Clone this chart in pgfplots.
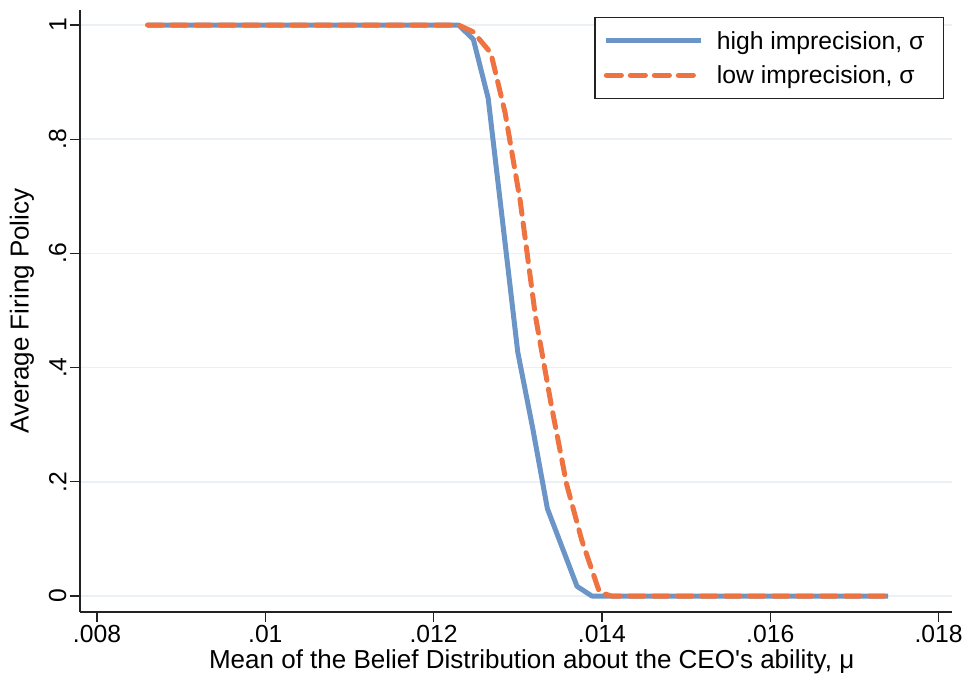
\documentclass[border=0pt]{standalone}
\usepackage{fontspec}
\setmainfont{Liberation Sans}[Ligatures=TeXOff]
\usepackage{pgfplots}
\pgfplotsset{compat=1.18}

\definecolor{hiblue}{HTML}{6A95C6}
\definecolor{loorange}{HTML}{EE7340}
\definecolor{gridc}{HTML}{EAF0F3}
\definecolor{axc}{HTML}{222222}

\newcommand{\chartfont}{\fontsize{24.7}{29}\selectfont}
\newcommand{\labelfont}{\fontsize{26}{31}\selectfont}

\begin{document}
\begin{tikzpicture}
\begin{axis}[
  scale only axis, width=872pt, height=602pt,
  at={(0pt,0pt)}, anchor=south west,
  xmin=0.007798, xmax=0.01816, ymin=-0.028, ymax=1.0263,
  axis x line*=bottom, axis y line*=left,
  axis line style={line width=1.3pt, color=axc, -},
  xtick={0.008,0.010,0.012,0.014,0.016,0.018},
  xticklabels={.008,.01,.012,.014,.016,.018},
  ytick={0,0.2,0.4,0.6,0.8,1},
  yticklabels={0,.2,.4,.6,.8,1},
  scaled x ticks=false,
  tick align=outside, major tick length=10pt,
  tick style={line width=1.3pt, color=axc},
  ymajorgrids, grid style={gridc, line width=1.6pt},
  ticklabel style={font=\chartfont},
  yticklabel style={rotate=90, anchor=south},
  label style={font=\labelfont},
  xlabel={Mean of the Belief Distribution about the CEO's ability, μ},
  ylabel={Average Firing Policy},
  xlabel style={at={(axis description cs:0.518,-0.083)}, anchor=center},
  ylabel style={at={(axis description cs:-0.0665,0.5)}, anchor=center, rotate=0},
  legend style={at={(axis description cs:0.9908,0.9884)}, anchor=north east,
    draw=axc, line width=1.3pt, inner xsep=9pt, inner ysep=6pt,
    row sep=0pt, column sep=3pt,
    nodes={font=\chartfont, inner xsep=10pt, inner ysep=7.5pt},
    cells={anchor=west}},
  legend image code/.code={\draw[#1] (0pt,0pt) -- (95pt,0pt);},
]
% high imprecision
\addplot[hiblue, line width=5pt, line join=round] coordinates {
 (0.008600,1) (0.008776,1) (0.008952,1) (0.009128,1) (0.009304,1)
 (0.009480,1) (0.009656,1) (0.009832,1) (0.010008,1) (0.010184,1)
 (0.010360,1) (0.010536,1) (0.010712,1) (0.010888,1) (0.011064,1)
 (0.011240,1) (0.011416,1) (0.011592,1) (0.011768,1) (0.011944,1)
 (0.012120,1) (0.012296,1) (0.012472,0.975) (0.012648,0.872) (0.012824,0.650)
 (0.013000,0.427) (0.013176,0.295) (0.013352,0.153) (0.013528,0.085) (0.013704,0.017)
 (0.013880,0) (0.014056,0) (0.014232,0) (0.014408,0) (0.014584,0)
 (0.014760,0) (0.014936,0) (0.015112,0) (0.015288,0) (0.015464,0)
 (0.015640,0) (0.015816,0) (0.015992,0) (0.016168,0) (0.016344,0)
 (0.016520,0) (0.016696,0) (0.016872,0) (0.017048,0) (0.017224,0)
 (0.017400,0)
};
\addlegendentry{high imprecision, σ}
% low imprecision
\addplot[loorange, line width=5pt, line cap=round, line join=round, dash pattern=on 15pt off 9pt] coordinates {
 (0.008600,1) (0.008776,1) (0.008952,1) (0.009128,1) (0.009304,1)
 (0.009480,1) (0.009656,1) (0.009832,1) (0.010008,1) (0.010184,1)
 (0.010360,1) (0.010536,1) (0.010712,1) (0.010888,1) (0.011064,1)
 (0.011240,1) (0.011416,1) (0.011592,1) (0.011768,1) (0.011944,1)
 (0.012120,1) (0.012296,1) (0.012470,0.988) (0.012680,0.951) (0.012850,0.846)
 (0.013030,0.691) (0.013210,0.490) (0.013400,0.333) (0.013580,0.196) (0.013760,0.098)
 (0.013970,0.007) (0.014110,0) (0.014232,0) (0.014408,0) (0.014584,0)
 (0.014760,0) (0.014936,0) (0.015112,0) (0.015288,0) (0.015464,0)
 (0.015640,0) (0.015816,0) (0.015992,0) (0.016168,0) (0.016344,0)
 (0.016520,0) (0.016696,0) (0.016872,0) (0.017048,0) (0.017224,0)
 (0.017400,0)
};
\addlegendentry{low imprecision, σ}
\end{axis}
\path (-80pt,-70pt) rectangle (886pt,612pt);
\end{tikzpicture}
\end{document}
